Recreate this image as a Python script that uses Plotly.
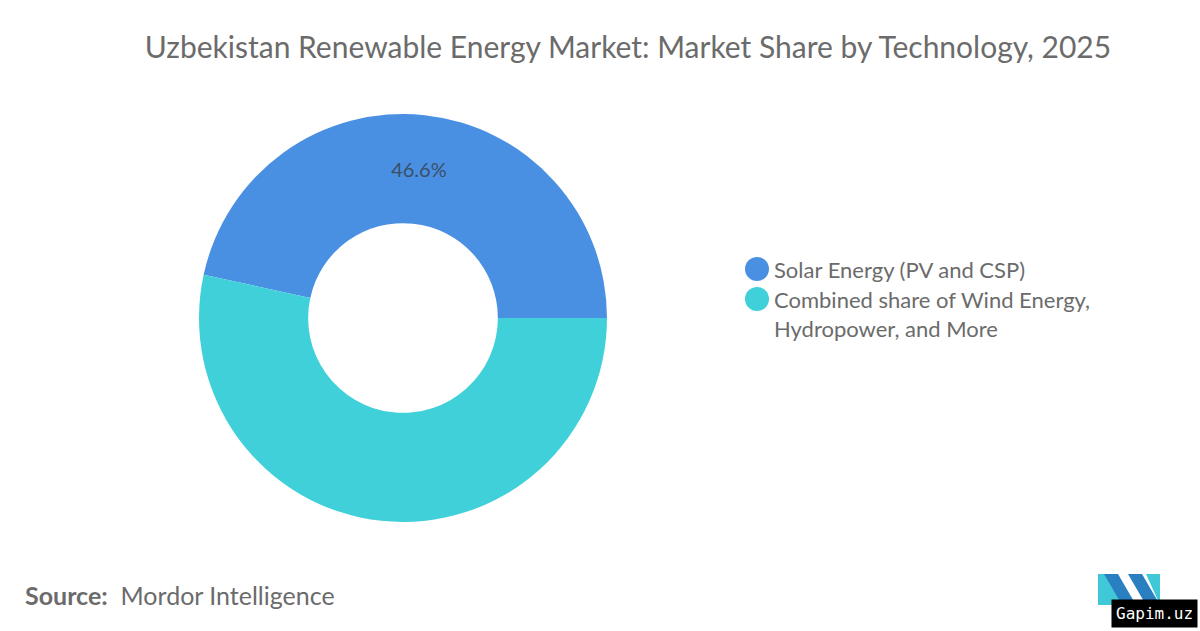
import plotly.graph_objects as go

labels = ["Solar Energy (PV and CSP)", "Combined share of Wind Energy,<br>Hydropower, and More"]
values = [46.6, 53.4]
label_text = ["46.6%", ""]
colors = ["#4a90e2", "#40d0da"]

W, H = 1200, 631
cx, cy, R = 403, 318, 204

# first slice runs clockwise from its left edge round to 3 o'clock
start_rot = 90 - values[0] / sum(values) * 360

fig = go.Figure()
fig.add_trace(go.Pie(
    labels=labels, values=values, text=label_text,
    texttemplate="%{text}", textinfo="text", textposition="inside",
    insidetextorientation="horizontal",
    textfont=dict(family="Lato", size=20, color="#3a4f66"),
    hole=0.465, sort=False, direction="clockwise", rotation=start_rot,
    marker=dict(colors=colors, line=dict(width=0)),
    showlegend=False, hoverinfo="label+percent",
    domain=dict(x=[(cx - R) / W, (cx + R) / W], y=[1 - (cy + R) / H, 1 - (cy - R) / H]),
))

shapes = []
annotations = []
# custom legend with circle markers
leg_x, leg_y = 757, [269, 299]
for i, (lab, col) in enumerate(zip(labels, colors)):
    r = 12
    shapes.append(dict(type="circle", xref="paper", yref="paper",
                       x0=(leg_x - r) / W, x1=(leg_x + r) / W,
                       y0=1 - (leg_y[i] + r) / H, y1=1 - (leg_y[i] - r) / H,
                       fillcolor=col, line=dict(width=0)))
    annotations.append(dict(text=lab, xref="paper", yref="paper",
                            x=772 / W, y=1 - (leg_y[i] - 15) / H,
                            xanchor="left", yanchor="top", align="left", showarrow=False,
                            font=dict(family="Lato", size=22, color="#6b6b6b")))

annotations.append(dict(text="<b>Source:</b>  Mordor Intelligence", xref="paper", yref="paper",
                        x=23 / W, y=1 - 595 / H, xanchor="left", yanchor="middle", showarrow=False,
                        font=dict(family="Lato", size=25, color="#6b6b6b")))
annotations.append(dict(text="Gapim.uz", xref="paper", yref="paper",
                        x=1154 / W, y=1 - 613 / H, xanchor="center", yanchor="middle", showarrow=False,
                        bgcolor="#000000", borderpad=4,
                        font=dict(family="DejaVu Sans Mono", size=16, color="#ffffff")))

# logo (approximate)
def P(x, y):
    return f"{x / W},{1 - y / H}"
logo = [
    ("M " + P(1098, 605) + " L " + P(1098, 574) + " L " + P(1112, 574) + " L " + P(1128, 605) + " Z", "#40c8d8"),
    ("M " + P(1104, 574) + " L " + P(1118, 574) + " L " + P(1136, 605) + " L " + P(1122, 605) + " Z", "#2a7fc1"),
    ("M " + P(1128, 574) + " L " + P(1142, 574) + " L " + P(1160, 605) + " L " + P(1146, 605) + " Z", "#2a7fc1"),
    ("M " + P(1146, 574) + " L " + P(1160, 574) + " L " + P(1160, 605) + " Z", "#40c8d8"),
]
for path, col in logo:
    shapes.append(dict(type="path", xref="paper", yref="paper", path=path,
                       fillcolor=col, line=dict(width=0)))

fig.update_layout(
    width=W, height=H,
    margin=dict(l=0, r=0, t=0, b=0),
    paper_bgcolor="#ffffff", plot_bgcolor="#ffffff",
    title=dict(text="Uzbekistan Renewable Energy Market: Market Share by Technology, 2025",
               x=628 / W, xanchor="center", y=1 - 47 / H, yanchor="middle",
               font=dict(family="Lato", size=30, color="#6b6b6b")),
    shapes=shapes, annotations=annotations,
)

fig.write_html("out.html")
